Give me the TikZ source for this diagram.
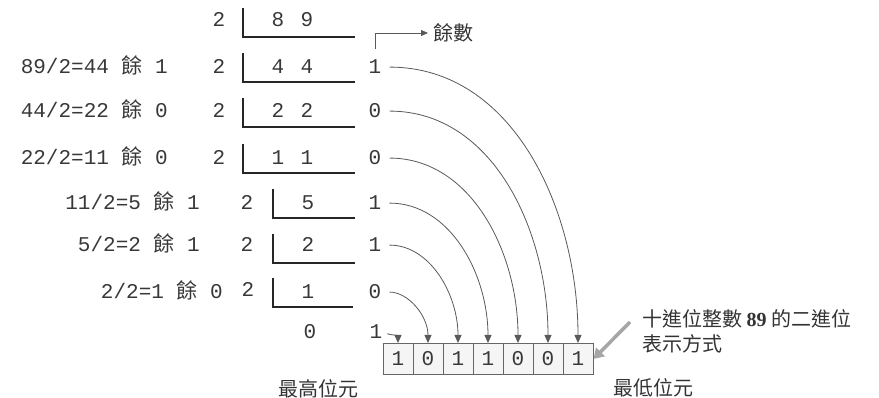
\documentclass[tikz,border=0pt]{standalone}
\usepackage{fontspec}
\setmainfont{Liberation Mono}
\newfontfamily\cjk{Noto Sans CJK TC}
\newfontfamily\numfont{Liberation Serif}
\usetikzlibrary{arrows.meta}

\tikzset{
  num/.style={font=\fontsize{21}{21}\selectfont, text=black!78, inner sep=0pt, anchor=base},
  lbl/.style={num, anchor=base east},
  zh/.style={font=\cjk\fontsize{20}{25}\selectfont, text=black!80, inner sep=0pt},
  bit/.style={num, anchor=center, draw=black!60, line width=1pt, fill=black!4, minimum width=30pt, minimum height=31pt},
  bar/.style={line width=1.1pt, draw=black!85},
  link/.style={line width=0.8pt, draw=black!65, -{Triangle[length=8pt,width=7pt]}, shorten <=8pt},
}

\begin{document}
\begin{tikzpicture}[x=1pt, y=1pt]
\useasboundingbox (0,0) rectangle (879,-398);

% divisors
\node [num] (d0) at (219,-27) {2};
\node [num] (d1) at (219,-74) {2};
\node [num] (d2) at (219,-118) {2};
\node [num] (d3) at (219,-165) {2};
\node [num] (d4) at (247,-210) {2};
\node [num] (d5) at (247,-252) {2};
\node [num] (d6) at (248,-297) {2};

% quotients
\node [num] (q0a) at (278,-27) {8};
\node [num] (q0b) at (307,-27) {9};
\node [num] (q1a) at (278,-74) {4};
\node [num] (q1b) at (307,-74) {4};
\node [num] (q2a) at (278,-118) {2};
\node [num] (q2b) at (307,-118) {2};
\node [num] (q3a) at (278,-165) {1};
\node [num] (q3b) at (307,-165) {1};
\node [num] (q4) at (308,-210) {5};
\node [num] (q5) at (308,-252) {2};
\node [num] (q6) at (308,-299) {1};
\node [num] (q7) at (310,-339) {0};

% division brackets
\draw [bar] (243,-8) |- (355,-37);
\draw [bar] (243,-53) |- (355,-82);
\draw [bar] (243,-98) |- (355,-127);
\draw [bar] (243,-144) |- (355,-173);
\draw [bar] (273,-189) |- (355,-218);
\draw [bar] (273,-234) |- (355,-263);
\draw [bar] (273,-278) |- (353,-307);

% remainders
\node [num] (r1) at (375,-74) {1};
\node [num] (r2) at (375,-118) {0};
\node [num] (r3) at (375,-165) {0};
\node [num] (r4) at (375,-210) {1};
\node [num] (r5) at (375,-252) {1};
\node [num] (r6) at (375,-299) {0};
\node [num] (r7) at (376,-339) {1};

% row labels
\node [lbl] (l1) at (168,-74) {89/2=44 {\cjk 餘} 1};
\node [lbl] (l2) at (168,-118) {44/2=22 {\cjk 餘} 0};
\node [lbl] (l3) at (168,-165) {22/2=11 {\cjk 餘} 0};
\node [lbl] (l4) at (200,-210) {11/2=5 {\cjk 餘} 1};
\node [lbl] (l5) at (200,-252) {5/2=2 {\cjk 餘} 1};
\node [lbl] (l6) at (223,-299) {2/2=1 {\cjk 餘} 0};

% result bits
\node [bit] (b1) at (398,-359) {1};
\node [bit] (b2) at (428,-359) {0};
\node [bit] (b3) at (458,-359) {1};
\node [bit] (b4) at (488,-359) {1};
\node [bit] (b5) at (518,-359) {0};
\node [bit] (b6) at (548,-359) {0};
\node [bit] (b7) at (578,-359) {1};

\draw [link, out=0, in=90] (r1.east) to (b7.north);
\draw [link, out=0, in=90] (r2.east) to (b6.north);
\draw [link, out=0, in=90] (r3.east) to (b5.north);
\draw [link, out=0, in=90] (r4.east) to (b4.north);
\draw [link, out=0, in=90] (r5.east) to (b3.north);
\draw [link, out=0, in=90] (r6.east) to (b2.north);
\draw [link, out=-20, in=90, shorten <=5pt] (r7.east) to (b1.north);

% remainder label
\node [zh, anchor=west] (ys) at (433,-33) {餘數};
\draw [line width=0.8pt, draw=black!65, -{Triangle[length=7pt,width=6pt]}, shorten >=5pt] ([yshift=11pt]r1.north) |- (ys.west);

% note
\node [zh, anchor=west, align=left] (note) at (642,-331) {十進位整數 {\numfont\bfseries 89} 的二進位\\表示方式};
\coordinate (t) at (630,-322);
\draw [line width=3.5pt, draw=black!35, -{Triangle[length=10pt,width=12pt]}] (t) -- (b7.east);

\node [zh] (hi) at (318,-389) {最高位元};
\node [zh] (lo) at (653,-388) {最低位元};
\end{tikzpicture}
\end{document}
